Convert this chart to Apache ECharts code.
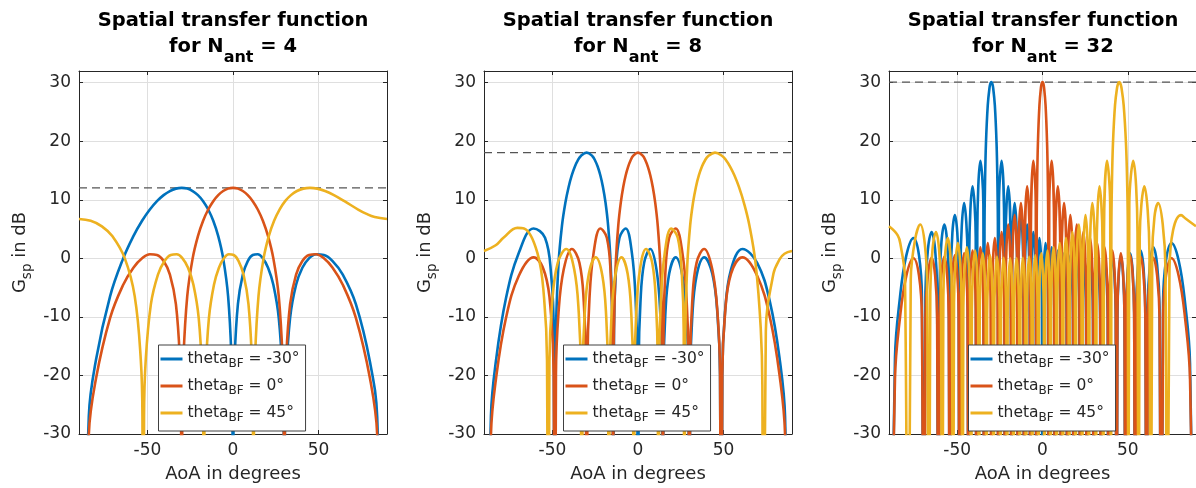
<!DOCTYPE html>
<html><head><meta charset="utf-8">
<script src="https://cdn.jsdelivr.net/npm/echarts@6/dist/echarts.min.js"></script>
<style>html,body{margin:0;padding:0;background:#fff}#c{width:1196px;height:488px}</style>
</head><body><div id="c"></div>
<script>
// ---------- data ----------
const Z = -100; // array-factor null (-inf dB), clipped by the axis
const nAnt = [4, 8, 32];
const thetaBF = [-30, 0, 45];
const peakGain = [12.04, 18.06, 30.10];
const aoaTicks = [-50, 0, 50];
const aoaRange = [-90, 90];
const gainRange = [-30, 32];
const gainStep = 10;

// N = 4
const g4_m30 = [[-90,Z],[-84.27,-26.97],[-80.06,-17.31],[-71.81,-6.45],[-64.16,0],[-58.21,3.8],[-53.13,6.42],[-48.59,8.34],[-44.43,9.77],[-40.54,10.8],[-36.87,11.5],[-33.37,11.91],[-30,12.04],[-26.74,11.91],[-23.58,11.5],[-20.49,10.8],[-17.46,9.77],[-14.48,8.34],[-11.54,6.42],[-8.63,3.8],[-5.74,0],[-2.87,-6.45],[-0.86,-17.31],[-0.29,-26.97],[0,Z],[0.29,-27.1],[0.86,-17.7],[2.87,-7.82],[5.74,-2.77],[8.63,-0.46],[11.54,0.57],[14.48,0.69],[17.46,0],[20.49,-1.6],[23.58,-4.51],[26.74,-10.17],[29.01,-20.53],[29.67,-30.06],[30,Z],[30.33,-30.06],[31,-20.5],[33.37,-10.17],[36.87,-4.51],[40.54,-1.6],[44.43,0],[48.59,0.69],[53.13,0.57],[58.21,-0.46],[64.16,-2.77],[71.81,-7.82],[80.06,-17.7],[84.27,-27.1],[90,Z]];
const g4_0 = [[-90,Z],[-84.27,-30.06],[-80.06,-20.53],[-71.81,-10.17],[-64.16,-4.51],[-58.21,-1.6],[-53.13,0],[-48.59,0.69],[-44.43,0.57],[-40.54,-0.46],[-36.87,-2.77],[-33.37,-7.82],[-31,-17.7],[-30.33,-27.1],[-30,Z],[-29.67,-26.97],[-29.01,-17.31],[-26.74,-6.45],[-23.58,0],[-20.49,3.8],[-17.46,6.42],[-14.48,8.34],[-11.54,9.77],[-8.63,10.8],[-5.74,11.5],[-2.87,11.91],[0,12.04],[2.87,11.91],[5.74,11.5],[8.63,10.8],[11.54,9.77],[14.48,8.34],[17.46,6.42],[20.49,3.8],[23.58,0],[26.74,-6.45],[29.01,-17.31],[29.67,-26.97],[30,Z],[30.33,-27.1],[31,-17.7],[33.37,-7.82],[36.87,-2.77],[40.54,-0.46],[44.43,0.57],[48.59,0.69],[53.13,0],[58.21,-1.6],[64.16,-4.51],[71.81,-10.17],[80.06,-20.53],[84.27,-30.06],[90,Z]];
const g4_45 = [[-90,6.73],[-83.17,6.42],[-76.62,5.47],[-70.55,3.8],[-63.24,0],[-57.45,-6.45],[-53.89,-17.31],[-52.93,-26.97],[-52.46,Z],[-51.99,-27.1],[-51.07,-17.7],[-47.98,-7.82],[-43.86,-2.77],[-40.01,-0.46],[-36.36,0.57],[-32.88,0.69],[-29.53,0],[-26.29,-1.6],[-23.13,-4.51],[-20.05,-10.17],[-17.93,-20.5],[-17.33,-30.06],[-17.03,Z],[-16.73,-30.06],[-16.14,-20.53],[-14.06,-10.17],[-11.12,-4.51],[-8.22,-1.6],[-5.33,0],[-2.46,0.69],[0.41,0.57],[3.27,-0.46],[6.15,-2.77],[9.04,-7.82],[11.07,-17.7],[11.66,-27.1],[11.95,Z],[12.25,-26.97],[12.83,-17.31],[14.9,-6.45],[17.88,0],[20.92,3.8],[24.02,6.42],[27.2,8.34],[30.47,9.77],[33.86,10.8],[37.38,11.5],[41.08,11.91],[45,12.04],[49.21,11.91],[53.81,11.5],[58.99,10.8],[65.13,9.77],[73.15,8.34],[77.72,7.64],[82.8,7.06],[90,6.73]];

// N = 8
const g8_m30 = [[-90,Z],[-85.95,-26.98],[-82.98,-17.41],[-77.16,-6.83],[-69.64,0.94],[-61.04,5.11],[-54.34,3.52],[-50.81,-2.64],[-49.25,-12.43],[-48.59,Z],[-48.37,-21.63],[-47.95,-11.93],[-46.47,-0.98],[-44.43,5.59],[-42.45,9.49],[-40.54,12.2],[-38.68,14.2],[-36.87,15.68],[-35.1,16.76],[-33.37,17.49],[-30,18.06],[-26.74,17.49],[-25.15,16.76],[-23.58,15.68],[-22.02,14.2],[-20.49,12.2],[-18.97,9.49],[-17.46,5.59],[-15.96,-0.98],[-14.92,-11.93],[-14.63,-21.63],[-14.48,Z],[-14.03,-12.43],[-13,-2.64],[-10.81,3.52],[-7.18,5.11],[-3.58,0.94],[-1.43,-6.83],[-0.43,-17.41],[0,Z],[0.43,-17.62],[1.43,-7.52],[3.58,-0.77],[7.18,1.6],[10.81,-1.92],[13,-9.36],[14.03,-19.8],[14.48,Z],[14.92,-19.88],[15.96,-9.64],[18.21,-2.63],[22.02,0.17],[25.94,-2.97],[28.36,-10.19],[29.51,-20.53],[30,Z],[30.5,-20.53],[31.67,-10.19],[34.23,-2.97],[38.68,0.17],[43.43,-2.63],[46.47,-9.64],[47.95,-19.88],[48.59,Z],[49.25,-19.8],[50.81,-9.36],[54.34,-1.92],[61.04,1.6],[69.64,-0.77],[77.16,-7.52],[82.98,-17.62],[85.95,-27.08],[90,Z]];
const g8_0 = [[-90,Z],[-85.95,-30.06],[-82.98,-20.53],[-77.16,-10.19],[-69.64,-2.97],[-61.04,0.17],[-54.34,-2.63],[-50.81,-9.64],[-49.25,-19.88],[-48.59,Z],[-47.95,-19.8],[-46.47,-9.36],[-43.43,-1.92],[-38.68,1.6],[-34.23,-0.77],[-31.67,-7.52],[-30.5,-17.62],[-30,Z],[-29.51,-17.41],[-28.36,-6.83],[-25.94,0.94],[-22.02,5.11],[-18.21,3.52],[-15.96,-2.64],[-14.92,-12.43],[-14.48,Z],[-14.33,-21.63],[-14.03,-11.93],[-13,-0.98],[-11.54,5.59],[-10.08,9.49],[-8.63,12.2],[-7.18,14.2],[-5.74,15.68],[-4.3,16.76],[-2.87,17.49],[0,18.06],[2.87,17.49],[4.3,16.76],[5.74,15.68],[7.18,14.2],[8.63,12.2],[10.08,9.49],[11.54,5.59],[13,-0.98],[14.03,-11.93],[14.33,-21.63],[14.48,Z],[14.92,-12.43],[15.96,-2.64],[18.21,3.52],[22.02,5.11],[25.94,0.94],[28.36,-6.83],[29.51,-17.41],[30,Z],[30.5,-17.62],[31.67,-7.52],[34.23,-0.77],[38.68,1.6],[43.43,-1.92],[46.47,-9.36],[47.95,-19.8],[48.59,Z],[49.25,-19.88],[50.81,-9.64],[54.34,-2.63],[61.04,0.17],[69.64,-2.97],[77.16,-10.19],[82.98,-20.53],[85.95,-30.06],[90,Z]];
const g8_45 = [[-90,1.26],[-83.17,2.24],[-78.64,3.52],[-70.55,5.2],[-66.62,5.11],[-58.8,0.94],[-54.87,-6.83],[-53.17,-17.41],[-52.46,Z],[-51.76,-17.62],[-50.17,-7.52],[-46.92,-0.77],[-41.9,1.6],[-37.26,-1.92],[-34.6,-9.36],[-33.39,-19.8],[-32.88,Z],[-32.37,-19.88],[-31.19,-9.64],[-28.71,-2.63],[-24.7,0.17],[-20.82,-2.97],[-18.54,-10.19],[-17.48,-20.53],[-17.03,Z],[-16.58,-20.53],[-15.54,-10.19],[-13.32,-2.97],[-9.67,0.17],[-6.05,-2.63],[-3.89,-9.64],[-2.89,-19.88],[-2.46,Z],[-2.03,-19.8],[-1.03,-9.36],[1.12,-1.92],[4.71,1.6],[8.31,-0.77],[10.49,-7.52],[11.51,-17.62],[11.95,Z],[12.39,-17.41],[13.42,-6.83],[15.64,0.94],[19.4,5.11],[23.24,3.52],[25.6,-2.64],[26.72,-12.43],[27.2,Z],[27.36,-21.63],[27.68,-11.93],[28.82,-0.98],[30.47,5.59],[32.15,9.49],[33.86,12.2],[35.6,14.2],[37.38,15.68],[39.21,16.76],[41.08,17.49],[45,18.06],[49.21,17.49],[51.46,16.76],[53.81,15.68],[56.32,14.2],[58.99,12.2],[61.89,9.49],[65.13,5.59],[68.77,-0.98],[71.73,-11.93],[72.68,-21.63],[73.15,Z],[74.71,-12.43],[79.14,-2.64],[82.8,-0.15],[85.6,0.79],[90,1.26]];

// N = 32
const g32_m30 = [[-90,Z],[-86.49,-17],[-83.59,-6.7],[-79.86,0.46],[-75.64,3.46],[-72.39,0.46],[-70.69,-6.7],[-69.636,Z],
[-68.63,-5.7],[-67.2,1.5],[-65,4.5],[-62.95,1.5],[-61.79,-5.7],[-61.045,Z],
[-60.31,-4.4],[-59.25,2.8],[-57.535,5.78],[-55.91,2.8],[-54.96,-4.4],[-54.34,Z],
[-53.75,-3.51],[-52.83,4.4],[-51.375,7.38],[-49.96,4.4],[-49.15,-2.06],[-48.59,Z],
[-48.06,-1.65],[-45.951,9.45],[-43.94,0.27],[-43.432,Z],
[-42.95,0.83],[-41.013,12.29],[-39.15,3.58],[-38.682,Z],
[-38.23,4.43],[-36.423,16.67],[-34.67,9.15],[-34.229,Z],
[-34.01,4.5],[-33.69,12.99],[-33.15,19.66],[-32.09,26.18],[-31.04,29.19],[-30.52,29.88],[-30,30.1],[-29.48,29.88],[-28.97,29.19],[-27.95,26.18],[-26.94,19.66],[-26.44,12.99],[-26.14,4.5],[-25.944,Z],
[-25.55,9.15],[-23.968,16.67],[-22.41,4.43],[-22.024,Z],
[-21.64,3.58],[-20.106,12.29],[-18.59,0.83],[-18.21,Z],
[-17.84,0.27],[-16.335,9.45],[-14.85,-1.65],[-14.478,Z],
[-14.11,-2.06],[-12.636,7.38],[-11.17,-3.51],[-10.807,Z],
[-10.44,-3.82],[-8.989,5.78],[-7.54,-4.97],[-7.181,Z],
[-6.82,-5.2],[-5.38,4.5],[-3.94,-6.2],[-3.583,Z],
[-3.22,-6.3],[-1.791,3.46],[-0.36,-7.2],[0,Z],
[0.36,-7.2],[1.791,2.6],[3.22,-7.9],[3.583,Z],
[3.94,-7.9],[5.38,1.9],[6.82,-8.6],[7.181,Z],
[7.54,-8.5],[8.989,1.33],[10.44,-9.1],[10.807,Z],
[11.17,-9],[12.636,0.88],[14.11,-9.5],[14.478,Z],
[14.85,-9.5],[16.335,0.52],[17.84,-9.8],[18.21,Z],
[18.59,-9.9],[20.106,0.26],[21.64,-10],[22.024,Z],
[22.41,-10.1],[23.968,0.09],[25.55,-10.1],[25.944,Z],
[26.35,-10.2],[27.953,0.01],[29.59,-10.2],[30,Z],
[30.42,-10.2],[32.09,0.01],[33.8,-10.2],[34.229,Z],
[34.67,-10.1],[36.423,0.09],[38.23,-10.1],[38.682,Z],
[39.15,-9.9],[41.013,0.26],[42.95,-9.9],[43.432,Z],
[43.94,-9.7],[45.951,0.52],[48.06,-9.7],[48.59,Z],
[49.15,-9.3],[49.96,-2.1],[51.375,0.88],[52.83,-2.1],[53.75,-9.3],[54.34,Z],
[54.96,-8.9],[55.91,-1.7],[57.535,1.33],[59.25,-1.7],[60.31,-8.9],[61.045,Z],
[61.79,-8.3],[62.95,-1.1],[65,1.9],[67.2,-1.1],[68.63,-8.3],[69.636,Z],
[70.69,-7.6],[72.39,-0.4],[75.64,2.6],[79.86,-0.4],[83.59,-7.6],[86.49,-17.9],[90,Z]];
const g32_0 = [[-90,Z],[-86.49,-20.5],[-83.59,-10.2],[-79.86,-3],[-75.64,0.01],[-72.39,-3],[-70.69,-10.2],[-69.636,Z],
[-68.63,-10.1],[-67.2,-2.9],[-65,0.09],[-62.95,-2.9],[-61.79,-10.1],[-61.045,Z],
[-60.31,-10],[-59.25,-2.8],[-57.535,0.26],[-55.91,-2.8],[-54.96,-9.9],[-54.34,Z],
[-53.75,-9.8],[-52.83,-2.6],[-51.375,0.52],[-49.96,-2.6],[-49.15,-9.4],[-48.59,Z],
[-48.06,-9.5],[-45.951,0.88],[-43.94,-9],[-43.432,Z],
[-42.95,-9.1],[-41.013,1.33],[-39.15,-8.5],[-38.682,Z],
[-38.23,-8.6],[-36.423,1.9],[-34.67,-7.9],[-34.229,Z],
[-33.8,-7.9],[-32.09,2.6],[-30.42,-7.2],[-30,Z],
[-29.59,-7.2],[-27.953,3.46],[-26.35,-6.3],[-25.944,Z],
[-25.55,-6.2],[-23.968,4.5],[-22.41,-5.2],[-22.024,Z],
[-21.64,-4.97],[-20.106,5.78],[-18.59,-3.82],[-18.21,Z],
[-17.84,-3.51],[-16.335,7.38],[-14.85,-2.06],[-14.478,Z],
[-14.11,-1.65],[-12.636,9.45],[-11.17,0.27],[-10.807,Z],
[-10.44,0.83],[-8.989,12.29],[-7.54,3.58],[-7.181,Z],
[-6.82,4.43],[-5.38,16.67],[-3.94,9.15],[-3.583,Z],
[-3.404,4.5],[-3.135,12.99],[-2.687,19.66],[-1.791,26.18],[-0.895,29.19],[-0.448,29.88],[0,30.1],[0.448,29.88],[0.895,29.19],[1.791,26.18],[2.687,19.66],[3.135,12.99],[3.404,4.5],[3.583,Z],
[3.94,9.15],[5.38,16.67],[6.82,4.43],[7.181,Z],
[7.54,3.58],[8.989,12.29],[10.44,0.83],[10.807,Z],
[11.17,0.27],[12.636,9.45],[14.11,-1.65],[14.478,Z],
[14.85,-2.06],[16.335,7.38],[17.84,-3.51],[18.21,Z],
[18.59,-3.82],[20.106,5.78],[21.64,-4.97],[22.024,Z],
[22.41,-5.2],[23.968,4.5],[25.55,-6.2],[25.944,Z],
[26.35,-6.3],[27.953,3.46],[29.59,-7.2],[30,Z],
[30.42,-7.2],[32.09,2.6],[33.8,-7.9],[34.229,Z],
[34.67,-7.9],[36.423,1.9],[38.23,-8.6],[38.682,Z],
[39.15,-8.5],[41.013,1.33],[42.95,-9.1],[43.432,Z],
[43.94,-9],[45.951,0.88],[48.06,-9.5],[48.59,Z],
[49.15,-9.4],[49.96,-2.6],[51.375,0.52],[52.83,-2.6],[53.75,-9.8],[54.34,Z],
[54.96,-9.9],[55.91,-2.8],[57.535,0.26],[59.25,-2.8],[60.31,-10],[61.045,Z],
[61.79,-10.1],[62.95,-2.9],[65,0.09],[67.2,-2.9],[68.63,-10.1],[69.636,Z],
[70.69,-10.2],[72.39,-3],[75.64,0.01],[79.86,-3],[83.59,-10.2],[86.49,-20.5],[90,Z]];
const g32_45 = [[-90,5.47],[-84.88,3.93],[-83.17,2.24],[-80.62,-3.51],[-78.64,Z],
[-77.24,-3.51],[-74.75,3.14],[-71.66,5.78],[-68.99,2.42],[-67.63,-4.97],[-66.62,Z],
[-65.79,-5.7],[-64.5,1.5],[-62.45,4.5],[-60.63,1.5],[-59.53,-5.7],[-58.8,Z],
[-58.14,-6.7],[-57.15,0.46],[-55.5,3.46],[-53.98,0.46],[-53.07,-6.7],[-52.46,Z],
[-51.89,-7.6],[-49.61,2.6],[-47.46,-7.6],[-46.92,Z],
[-46.41,-8.3],[-44.36,1.9],[-42.39,-8.3],[-41.9,Z],
[-41.43,-8.9],[-39.54,1.33],[-37.72,-8.9],[-37.26,Z],
[-36.82,-9.3],[-35.04,0.88],[-33.31,-9.3],[-32.88,Z],
[-32.46,-9.7],[-30.77,0.52],[-29.12,-9.7],[-28.71,Z],
[-28.31,-9.9],[-26.69,0.26],[-25.1,-9.9],[-24.7,Z],
[-24.31,-10.1],[-22.75,0.09],[-21.21,-10.1],[-20.82,Z],
[-20.44,-10.2],[-18.91,0.01],[-17.41,-10.2],[-17.03,Z],
[-16.66,-10.2],[-15.17,0.01],[-13.69,-10.2],[-13.32,Z],
[-12.95,-10.1],[-11.49,0.09],[-10.03,-10.1],[-9.67,Z],
[-9.31,-9.9],[-7.85,0.26],[-6.41,-9.9],[-6.05,Z],
[-5.69,-9.8],[-4.25,0.52],[-2.82,-9.5],[-2.46,Z],
[-2.1,-9.5],[-0.67,0.88],[0.76,-9],[1.12,Z],
[1.48,-9.1],[2.92,1.33],[4.35,-8.5],[4.71,Z],
[5.07,-8.6],[6.51,1.9],[7.96,-7.9],[8.32,Z],
[8.68,-7.9],[10.13,2.6],[11.59,-7.2],[11.95,Z],
[12.32,-7.2],[13.79,3.46],[15.27,-6.3],[15.64,Z],
[16.01,-6.2],[17.51,4.5],[19.02,-5.2],[19.4,Z],
[19.78,-4.97],[21.31,5.78],[22.85,-3.82],[23.24,Z],
[23.63,-3.51],[25.21,7.38],[26.8,-2.06],[27.2,Z],
[27.61,-1.65],[29.23,9.45],[30.89,0.27],[31.31,Z],
[31.73,0.83],[33.42,12.29],[35.16,3.58],[35.6,Z],
[36.05,4.43],[37.83,16.67],[39.68,9.15],[40.14,Z],
[40.37,4.5],[40.72,12.99],[41.32,19.66],[42.52,26.18],[43.75,29.19],[44.37,29.88],[45,30.1],[45.63,29.88],[46.28,29.19],[47.59,26.18],[48.94,19.66],[49.63,12.99],[50.04,4.5],[50.31,Z],
[50.89,9.15],[53.21,16.67],[55.7,4.43],[56.32,Z],
[57,3.58],[59.7,12.29],[62.71,0.83],[63.46,Z],
[64.33,0.27],[65.63,7.06],[67.8,9.45],[70.48,5.87],[72.09,-1.65],[73.16,Z],
[74.44,-2.06],[76.59,4.83],[81.25,7.38],[84.05,6.76],[90,5.47]];

// ---------- chart ----------
const curves = [[g4_m30, g4_0, g4_45], [g8_m30, g8_0, g8_45], [g32_m30, g32_0, g32_45]];
const COLORS = ['#0072BD', '#D95319', '#EDB120'];
const FONT = 'DejaVu Sans';
const INK = '#262626';
const GRIDLINE = '#dfdfdf';
const GL = [79, 484, 889], GW = 308, GT = 71, GH = 366;
const names = thetaBF.map(t => 'theta_BF = ' + t + '°');

const grid = [], xAxis = [], yAxis = [], series = [], legend = [], graphic = [];
for (let i = 0; i < 3; i++) {
  grid.push({left: GL[i], top: GT, width: GW, height: GH, containLabel: false});
  xAxis.push({
    gridIndex: i, type: 'value', min: aoaRange[0], max: aoaRange[1], position: 'bottom',
    axisLine: {show: true, onZero: false, lineStyle: {color: INK, width: 1}},
    axisTick: {show: true, inside: true, length: 4, customValues: aoaTicks, lineStyle: {color: INK}},
    axisLabel: {show: true, customValues: aoaTicks, fontFamily: FONT, fontSize: 17, color: INK, margin: 8},
    splitLine: {show: true, lineStyle: {color: GRIDLINE, width: 1}},
    name: 'AoA in degrees', nameLocation: 'middle', nameGap: 31,
    nameTextStyle: {fontFamily: FONT, fontSize: 18, color: INK}
  });
  yAxis.push({
    gridIndex: i, type: 'value', min: gainRange[0], max: gainRange[1], interval: gainStep, position: 'left',
    axisLine: {show: true, onZero: false, lineStyle: {color: INK, width: 1}},
    axisTick: {show: true, inside: true, length: 4, lineStyle: {color: INK}},
    axisLabel: {show: true, fontFamily: FONT, fontSize: 17, color: INK, margin: 8, showMaxLabel: false},
    splitLine: {show: true, lineStyle: {color: GRIDLINE, width: 1}},
    name: 'G{s|sp} in dB', nameLocation: 'middle', nameGap: 48, nameRotate: 90,
    nameTextStyle: {fontFamily: FONT, fontSize: 18, color: INK, lineHeight: 22,
      rich: {s: {fontFamily: FONT, fontSize: 13.5, color: INK, lineHeight: 22, padding: [14, 0, 0, 0]}}}
  });
}
for (let i = 0; i < 3; i++) {
  xAxis.push({
    gridIndex: i, type: 'value', min: aoaRange[0], max: aoaRange[1], position: 'top',
    axisLine: {show: true, onZero: false, lineStyle: {color: INK, width: 1}},
    axisTick: {show: true, inside: true, length: 4, customValues: aoaTicks, lineStyle: {color: INK}},
    axisLabel: {show: false}, splitLine: {show: false}
  });
  yAxis.push({
    gridIndex: i, type: 'value', min: gainRange[0], max: gainRange[1], interval: gainStep, position: 'right',
    axisLine: {show: true, onZero: false, lineStyle: {color: INK, width: 1}},
    axisTick: {show: true, inside: true, length: 4, lineStyle: {color: INK}},
    axisLabel: {show: false}, splitLine: {show: false}
  });
}
for (let i = 0; i < 3; i++) {
  series.push({
    type: 'line', xAxisIndex: i, yAxisIndex: i, symbol: 'none', silent: true,
    data: [[aoaRange[0], peakGain[i]], [aoaRange[1], peakGain[i]]],
    lineStyle: {color: '#555555', width: 1.2, type: [8, 5]}, z: 2
  });
  for (let k = 0; k < 3; k++) {
    series.push({
      type: 'line', name: names[k], xAxisIndex: i, yAxisIndex: i, symbol: 'none', clip: true,
      smooth: 0.4,
      data: curves[i][k], color: COLORS[k],
      lineStyle: {color: COLORS[k], width: 2.6, join: 'round'}, z: 3
    });
  }
  const cx = GL[i] + GW / 2;
  legend.push({
    orient: 'vertical', left: cx - 74.5, top: 345, data: names, selectedMode: false,
    icon: 'rect', itemWidth: 22, itemHeight: 3, itemGap: 5,
    padding: [3, 6, 7, 2], borderColor: '#404040', borderWidth: 1, backgroundColor: '#ffffff',
    formatter: (n) => '{t|theta}{s|BF}{t| = ' + thetaBF[names.indexOf(n)] + '°}',
    textStyle: {fontFamily: FONT, color: INK, fontSize: 15.5, rich: {
      t: {fontFamily: FONT, fontSize: 15.5, color: INK, lineHeight: 21},
      s: {fontFamily: FONT, fontSize: 12, color: INK, lineHeight: 21, padding: [10, 0, 0, 0]}
    }}
  });
  graphic.push({
    type: 'text', x: cx, y: 8, silent: true,
    style: {
      text: '{b|Spatial transfer function}\n{b|for N}{s|ant}{b| = ' + nAnt[i] + '}',
      align: 'center', verticalAlign: 'top', fill: '#000',
      rich: {
        b: {fontFamily: FONT, fontSize: 19.5, fontWeight: 'bold', fill: '#000', lineHeight: 26},
        s: {fontFamily: FONT, fontSize: 16, fontWeight: 'bold', fill: '#000', lineHeight: 26, padding: [22, 0, 0, 0]}
      }
    }
  });
}

const chart = echarts.init(document.getElementById('c'), null, {renderer: 'canvas'});
chart.setOption({
  animation: false, backgroundColor: '#ffffff',
  textStyle: {fontFamily: FONT},
  grid, xAxis, yAxis, series, legend, graphic
});
</script></body></html>
